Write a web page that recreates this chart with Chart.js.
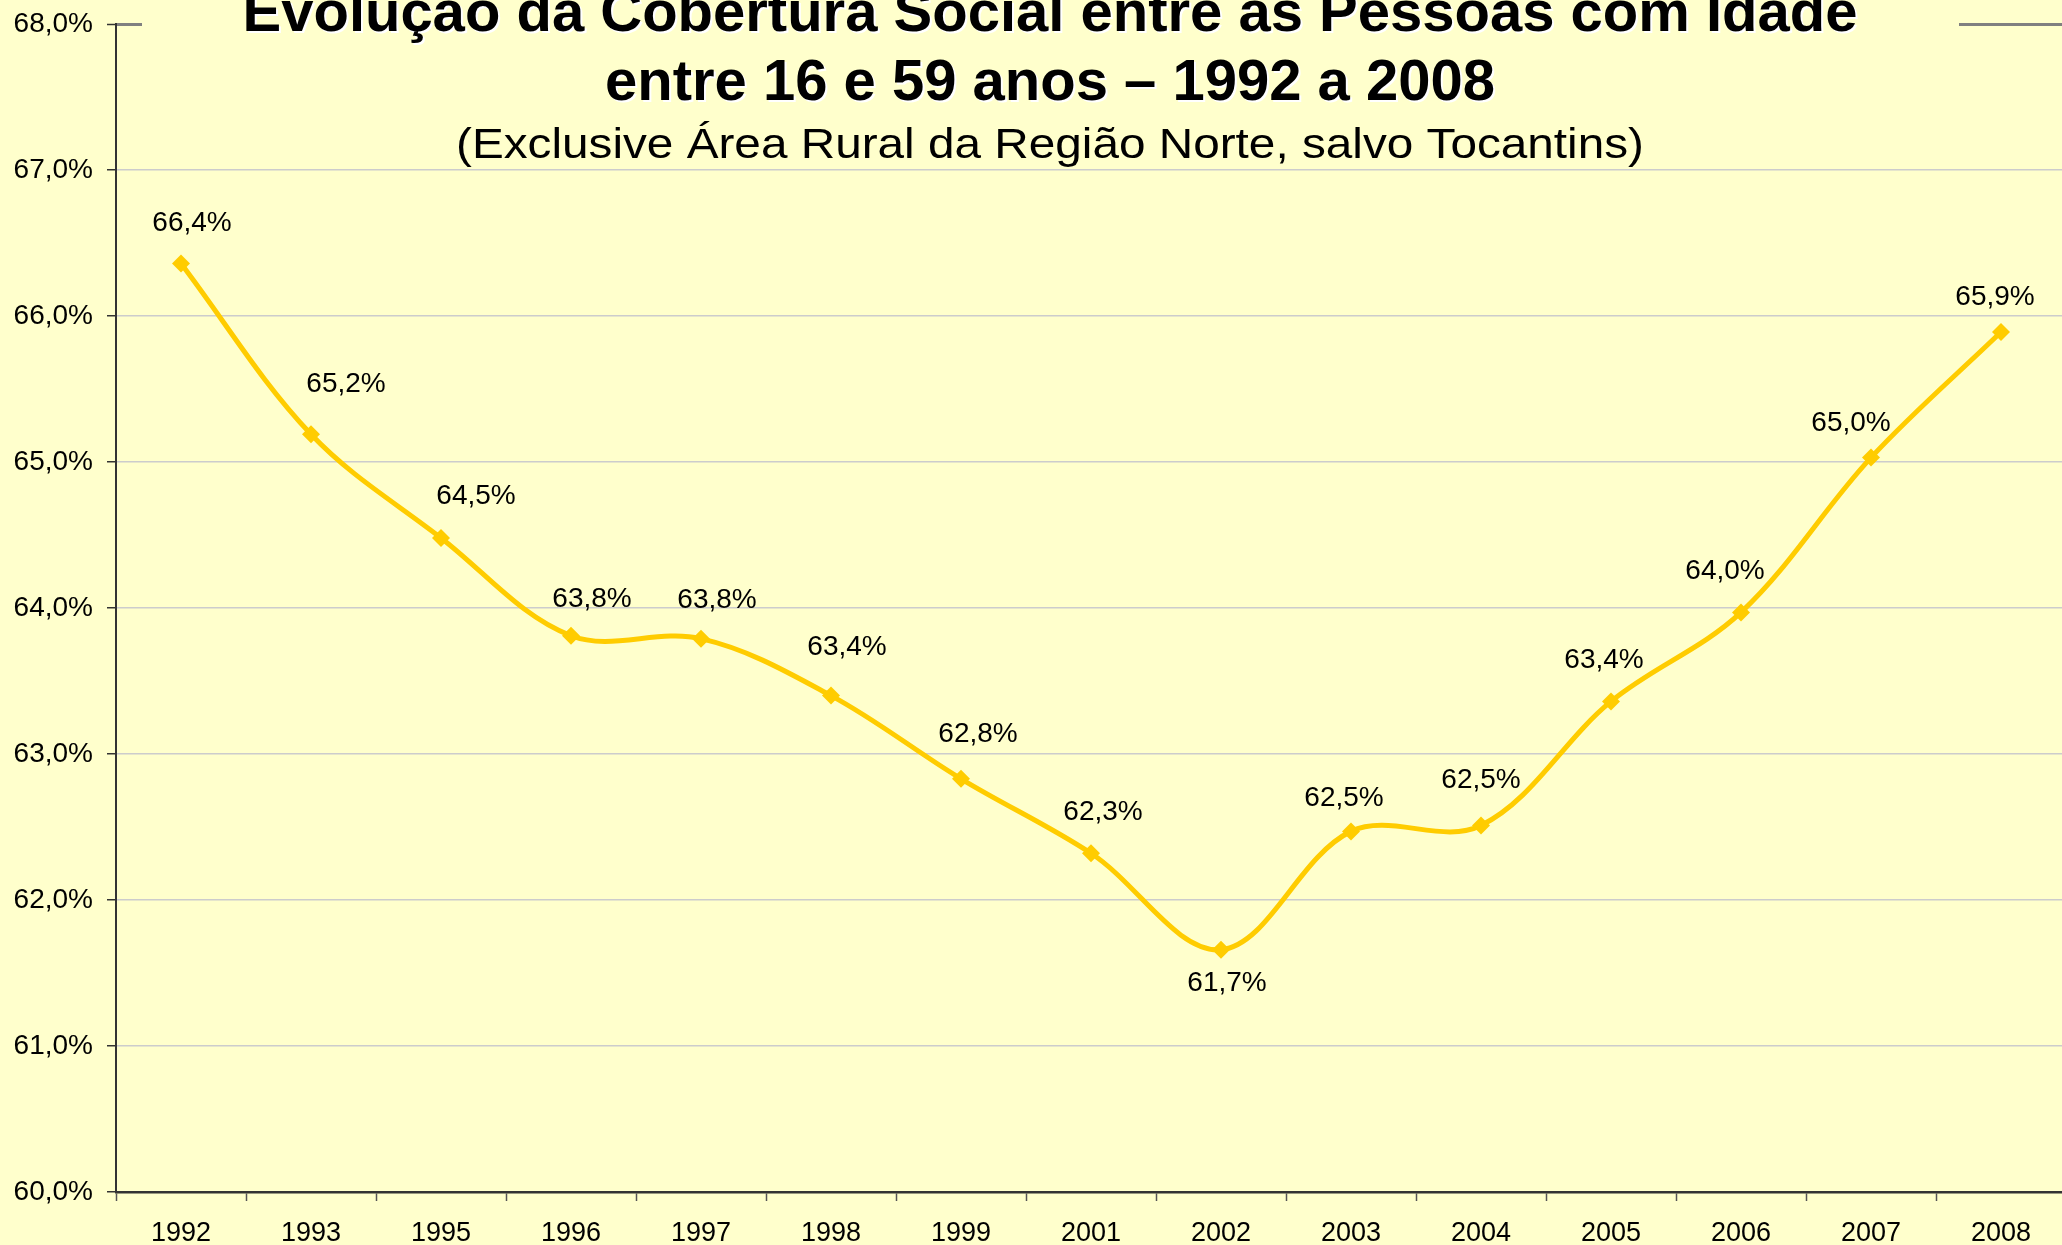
<!DOCTYPE html>
<html>
<head>
<meta charset="utf-8">
<script src="https://cdn.jsdelivr.net/npm/chart.js@4.4.1/dist/chart.umd.min.js"></script>
<style>
    html, body { margin: 0; padding: 0; background: #FFFFCC; overflow: hidden; }
    #wrap { width: 2075px; height: 1245px; position: relative; }
</style>
</head>
<body>
<div id="wrap"><canvas id="coberturaChart"></canvas></div>
<script>
// Dados do gráfico
const anos = ['1992', '1993', '1995', '1996', '1997', '1998', '1999', '2001', '2002', '2003', '2004', '2005', '2006', '2007', '2008'];
const cobertura = [66.36, 65.19, 64.48, 63.81, 63.79, 63.40, 62.83, 62.32, 61.66, 62.47, 62.51, 63.36, 63.97, 65.03, 65.89];
const rotulos = ['66,4%', '65,2%', '64,5%', '63,8%', '63,8%', '63,4%', '62,8%', '62,3%', '61,7%', '62,5%', '62,5%', '63,4%', '64,0%', '65,0%', '65,9%'];

const tituloLinhas = ['Evolução da Cobertura Social entre as Pessoas com Idade', 'entre 16 e 59 anos – 1992 a 2008'];
const subtitulo = '(Exclusive Área Rural da Região Norte, salvo Tocantins)';

// deslocamento manual dos rótulos (como no Excel)
const rotuloDx = [11, 35, 35, 21, 16, 16, 17, 12, 6, -7, 0, -7, -16, -20, -6];
const rotuloDy = [-40, -50, -42, -36, -38, -48, -45, -41, 34, -33, -45, -41, -41, -34, -35];

const FONTE = '"Liberation Sans", Arial, sans-serif';

// Rótulos de dados desenhados à mão
const rotulosPlugin = {
    id: 'rotulos',
    afterDatasetsDraw(chart) {
        const ctx = chart.ctx;
        const pts = chart.getDatasetMeta(0).data;
        ctx.save();
        ctx.font = '28px ' + FONTE;
        ctx.fillStyle = '#000';
        ctx.textAlign = 'center';
        ctx.textBaseline = 'middle';
        pts.forEach((p, i) => {
            ctx.fillText(rotulos[i], p.x + rotuloDx[i], p.y + rotuloDy[i]);
        });
        ctx.restore();
    }
};

// Título com caixa de fundo (cobre a borda superior)
const tituloPlugin = {
    id: 'titulo',
    afterDraw(chart) {
        const ctx = chart.ctx;
        const cx = 1050;
        ctx.save();
        ctx.fillStyle = '#FFFFCC';
        ctx.fillRect(142, 0, 1817, 150);

        ctx.textAlign = 'center';
        ctx.textBaseline = 'alphabetic';
        ctx.font = 'bold 58px ' + FONTE;
        const bases = [31, 100];
        tituloLinhas.forEach((t, i) => {
            ctx.fillStyle = '#FFFFFF';
            ctx.fillText(t, cx + 2, bases[i] + 2);
            ctx.fillStyle = '#000000';
            ctx.fillText(t, cx, bases[i]);
        });

        ctx.font = '42px ' + FONTE;
        const w = ctx.measureText(subtitulo).width;
        const sx = 1188 / w;
        ctx.translate(cx, 158);
        ctx.scale(sx, 1);
        ctx.fillStyle = '#000000';
        ctx.fillText(subtitulo, 0, 0);
        ctx.restore();
    }
};

const ctx = document.getElementById('coberturaChart').getContext('2d');
const chart = new Chart(ctx, {
    type: 'line',
    data: {
        labels: anos,
        datasets: [{
            data: cobertura,
            borderColor: '#FFCC00',
            backgroundColor: '#FFCC00',
            borderWidth: 5,
            tension: 0.35,
            fill: false,
            pointStyle: 'rectRot',
            pointRadius: 9,
            pointBorderWidth: 0,
            pointBackgroundColor: '#FFCC00'
        }]
    },
    options: {
        responsive: true,
        maintainAspectRatio: false,
        animation: false,
        devicePixelRatio: 1,
        layout: { padding: { top: 24, right: 0, bottom: 0, left: 0 } },
        plugins: {
            legend: { display: false },
            tooltip: { enabled: false },
            title: { display: false }
        },
        scales: {
            x: {
                offset: true,
                afterFit: s => { s.height = 53; s.paddingLeft = 0; s.paddingRight = 0; },
                grid: {
                    offset: true,
                    drawOnChartArea: false,
                    drawTicks: true,
                    tickLength: 9,
                    tickColor: '#555555',
                    tickWidth: 1.5
                },
                border: { color: '#333333', width: 2.5 },
                ticks: {
                    color: '#000',
                    font: { family: FONTE, size: 27 },
                    padding: 16,
                    maxRotation: 0,
                    autoSkip: false
                }
            },
            y: {
                min: 60,
                max: 68,
                afterFit: s => { s.width = 116; s.paddingTop = 0; s.paddingBottom = 0; },
                grid: {
                    color: c => (c.tick && c.tick.value === 68) ? '#808080' : '#CCCCCC',
                    lineWidth: c => (c.tick && c.tick.value === 68) ? 3 : 1.5,
                    tickColor: '#333333',
                    tickLength: 9,
                    tickWidth: 1.5
                },
                border: { color: '#333333', width: 2 },
                ticks: {
                    stepSize: 1,
                    color: '#000',
                    font: { family: FONTE, size: 28 },
                    padding: 14,
                    callback: v => v.toFixed(1).replace('.', ',') + '%'
                }
            }
        }
    },
    plugins: [rotulosPlugin, tituloPlugin]
});
</script>
</body>
</html>
